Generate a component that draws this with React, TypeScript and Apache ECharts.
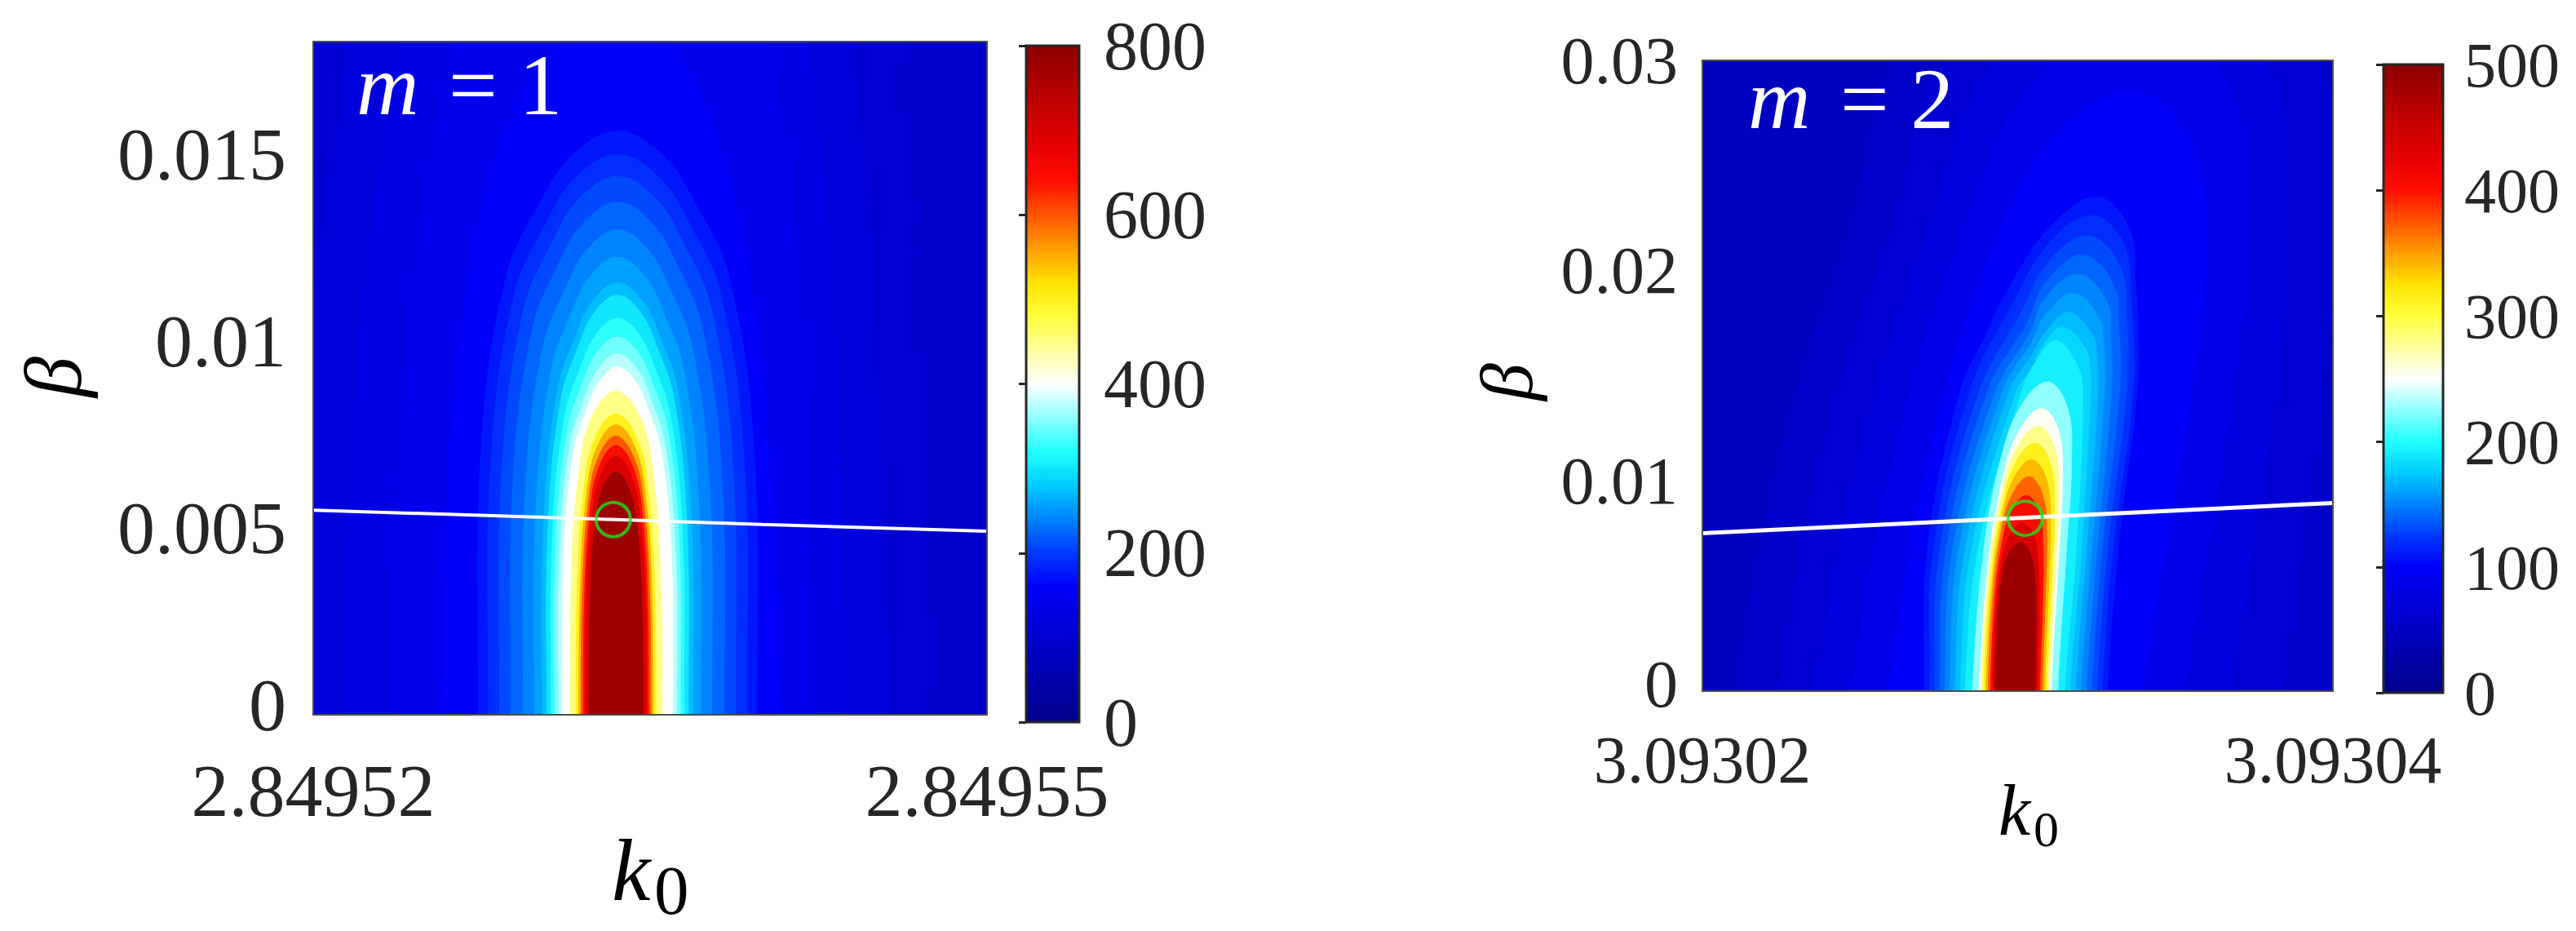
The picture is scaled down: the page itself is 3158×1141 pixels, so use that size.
import * as echarts from "echarts";
import { useEffect, useRef } from "react";

// k0 is stored as an offset from the left axis end in units of 1e-6,
// beta in units of 1e-3; the tick labels show the real values.
const xTicksL = ["2.84952", "2.84955"];
const yTicksL = ["0", "0.005", "0.01", "0.015"];
const xTicksR = ["3.09302", "3.09304"];
const yTicksR = ["0", "0.01", "0.02", "0.03"];

// jet-like colormap with a white middle (as in the colour bars)
const CMAP = [
  "#00008a", "#0000a6", "#0000c2", "#0000de", "#0000f9", "#003aff", "#0083ff",
  "#00ccff", "#21ffff", "#90ffff", "#ffffff", "#ffff9d", "#ffff3b", "#ffe300",
  "#ff9c00", "#ff5500", "#ff0e00", "#e70000", "#c90000", "#ab0000", "#8c0000",
];

// m = 1: contour levels and the outline of each level (dk0, beta)
const levelsL = [92, 100, 115, 130, 145, 160, 176, 192, 208, 224, 240, 256, 272, 300, 325, 350, 375, 400, 450, 500, 550, 600, 650, 700, 780];
const contoursL: number[][][] = [
  [[-5, -1], [-5, 30], [35, 30], [35, -1]],
  [[-3, 0], [-2.7, 7], [-1.8, 13], [-1, 16.5], [0, 20], [13, 24], [26, 20], [26.5, 16.5], [27, 13], [27.4, 7], [27.7, 0]],
  [[-0.8, 0], [-0.5, 7], [0.4, 13], [1.3, 16.5], [2.5, 20], [13, 23], [23, 20], [24.2, 16.5], [24.8, 13], [25.3, 7], [25.6, 0]],
  [[1.4, 0], [1.7, 7], [2.6, 13], [3.5, 16.5], [5, 20], [13, 22], [21, 20], [22.3, 16.5], [22.9, 13], [23.4, 7], [23.7, 0]],
  [[3.6, 0], [3.9, 7], [4.8, 13], [5.8, 16.5], [7.5, 19.5], [13.2, 21], [19, 19.5], [20.6, 16.5], [21.4, 13], [21.9, 7], [22.2, 0]],
  [[5.8, 0], [6.0, 6], [6.8, 11], [8.2, 15], [10.5, 17.6], [13.2, 18.6], [16, 17.8], [18.2, 15], [19.6, 11], [20.4, 6], [20.8, 0]],
  [[7.35, 0], [7.47, 7.02], [8.59, 11.7], [10.14, 13.73], [11.57, 14.98], [13.55, 15.6], [15.53, 14.98], [16.96, 13.73], [18.51, 11.7], [19.63, 7.02], [19.75, 0]],
  [[7.8, 0], [7.91, 6.74], [8.95, 11.23], [10.39, 13.17], [11.71, 14.37], [13.55, 14.97], [15.39, 14.37], [16.71, 13.17], [18.15, 11.23], [19.19, 6.74], [19.3, 0]],
  [[8.3, 0], [8.4, 6.48], [9.35, 10.79], [10.66, 12.66], [11.87, 13.81], [13.55, 14.39], [15.23, 13.81], [16.44, 12.66], [17.75, 10.79], [18.7, 6.48], [18.8, 0]],
  [[8.8, 0], [8.89, 6.17], [9.75, 10.28], [10.94, 12.06], [12.03, 13.15], [13.55, 13.7], [15.07, 13.15], [16.16, 12.06], [17.35, 10.28], [18.21, 6.17], [18.3, 0]],
  [[9.35, 0], [9.43, 5.84], [10.19, 9.73], [11.24, 11.41], [12.21, 12.45], [13.55, 12.97], [14.89, 12.45], [15.86, 11.41], [16.91, 9.73], [17.67, 5.84], [17.75, 0]],
  [[9.85, 0], [9.92, 5.51], [10.59, 9.18], [11.51, 10.77], [12.37, 11.75], [13.55, 12.24], [14.73, 11.75], [15.59, 10.77], [16.51, 9.18], [17.18, 5.51], [17.25, 0]],
  [[10.2, 0], [10.27, 5.2], [10.87, 8.66], [11.71, 10.16], [12.48, 11.09], [13.55, 11.55], [14.62, 11.09], [15.39, 10.16], [16.23, 8.66], [16.83, 5.2], [16.9, 0]],
  [[10.4, 0], [10.46, 5.05], [11.03, 8.42], [11.82, 9.87], [12.54, 10.77], [13.55, 11.22], [14.56, 10.77], [15.28, 9.87], [16.07, 8.42], [16.64, 5.05], [16.7, 0]],
  [[10.6, 0], [10.66, 4.77], [11.19, 7.95], [11.93, 9.33], [12.61, 10.18], [13.55, 10.6], [14.49, 10.18], [15.17, 9.33], [15.91, 7.95], [16.44, 4.77], [16.5, 0]],
  [[10.75, 0], [10.81, 4.55], [11.31, 7.58], [12.01, 8.89], [12.65, 9.7], [13.55, 10.1], [14.45, 9.7], [15.09, 8.89], [15.79, 7.58], [16.29, 4.55], [16.35, 0]],
  [[10.93, 0], [10.98, 4.34], [11.45, 7.24], [12.11, 8.49], [12.71, 9.26], [13.55, 9.65], [14.39, 9.26], [14.99, 8.49], [15.65, 7.24], [16.12, 4.34], [16.17, 0]],
  [[11.1, 0], [11.15, 4.19], [11.59, 6.98], [12.2, 8.18], [12.77, 8.93], [13.55, 9.3], [14.33, 8.93], [14.9, 8.18], [15.51, 6.98], [15.95, 4.19], [16.0, 0]],
  [[11.43, 0], [11.51, 3.89], [11.84, 6.49], [12.41, 7.96], [13.48, 8.65], [14.55, 7.96], [15.12, 6.49], [15.45, 3.89], [15.53, 0]],
  [[11.7, 0], [11.77, 3.62], [12.06, 6.04], [12.55, 7.41], [13.48, 8.05], [14.41, 7.41], [14.9, 6.04], [15.19, 3.62], [15.26, 0]],
  [[11.83, 0], [11.9, 3.49], [12.16, 5.81], [12.62, 7.13], [13.48, 7.75], [14.34, 7.13], [14.8, 5.81], [15.06, 3.49], [15.13, 0]],
  [[11.93, 0], [11.99, 3.35], [12.24, 5.59], [12.67, 6.85], [13.48, 7.45], [14.29, 6.85], [14.72, 5.59], [14.97, 3.35], [15.03, 0]],
  [[12.03, 0], [12.09, 3.24], [12.32, 5.4], [12.73, 6.62], [13.48, 7.2], [14.23, 6.62], [14.64, 5.4], [14.87, 3.24], [14.93, 0]],
  [[12.13, 0], [12.18, 3.11], [12.4, 5.18], [12.78, 6.35], [13.48, 6.9], [14.18, 6.35], [14.56, 5.18], [14.78, 3.11], [14.83, 0]],
  [[12.28, 0], [12.33, 2.93], [12.52, 4.88], [12.86, 5.98], [13.48, 6.5], [14.1, 5.98], [14.44, 4.88], [14.63, 2.93], [14.68, 0]],
];
const lineLx = [0, 6, 13.4, 20, 30];
const lineLy = [5.47, 5.36, 5.22, 5.09, 4.91];
const pointL = [13.36, 5.22];

// m = 2
const levelsR = [47, 55, 65, 75, 85, 100, 110, 120, 130, 140, 150, 160, 170, 180, 192, 225, 252, 280, 313, 340, 370, 405, 440, 488];
const contoursR: number[][][] = [
  [[-5, -1], [-5, 40], [25, 40], [25, -1]],
  [[1.0, 0], [2.5, 12], [4.6, 22], [6.5, 31], [13, 38], [21, 31], [21.5, 22], [21, 12], [20, 0]],
  [[2.4, 0], [3.9, 12], [6.0, 22], [8.0, 31], [13, 36], [19.2, 31], [20, 22], [19.5, 12], [18.4, 0]],
  [[3.6, 0], [5.1, 12], [7.2, 22], [9.3, 30], [13.5, 34], [17.8, 30], [18.6, 22], [18.0, 12], [16.8, 0]],
  [[4.7, 0], [6.2, 12], [8.3, 22], [10.5, 29], [13.8, 32], [16.6, 29], [17.3, 22], [16.6, 12], [15.3, 0]],
  [[5.9, 0], [7.3, 12], [9.2, 21], [11.2, 26.5], [13.6, 28.5], [15.4, 26.5], [16.0, 21], [15.3, 12], [14.0, 0]],
  [[7.05, 0], [7.14, 6.76], [8.18, 14.26], [8.96, 16.85], [9.82, 19.44], [11.02, 22.04], [12.5, 23.5], [13.53, 22.04], [13.74, 19.44], [13.83, 16.85], [13.79, 14.26], [13.19, 6.76], [12.85, 0]],
  [[7.21, 0], [7.34, 6.76], [8.49, 14.26], [9.85, 18.44], [11.0, 21.3], [12.35, 22.62], [13.35, 21.3], [13.6, 18.44], [13.66, 14.26], [13.02, 6.76], [12.68, 0]],
  [[7.37, 0], [7.54, 6.76], [8.79, 14.26], [10.1, 17.96], [10.95, 20.35], [12.2, 21.65], [13.2, 20.35], [13.45, 17.96], [13.45, 14.26], [12.85, 6.76], [12.51, 0]],
  [[7.53, 0], [7.74, 6.76], [9.05, 14.26], [10.3, 17.5], [10.9, 19.44], [12.05, 20.74], [13.0, 19.44], [13.2, 17.5], [13.23, 14.26], [12.68, 6.76], [12.34, 0]],
  [[7.69, 0], [7.94, 6.76], [9.31, 14.26], [10.4, 17.05], [10.85, 18.63], [11.9, 19.83], [12.8, 18.63], [12.95, 17.05], [12.97, 14.26], [12.52, 6.76], [12.17, 0]],
  [[7.85, 0], [8.14, 6.76], [9.52, 14.26], [10.45, 16.6], [10.85, 17.83], [11.75, 18.93], [12.55, 17.83], [12.72, 16.6], [12.75, 14.26], [12.35, 6.76], [12.0, 0]],
  [[8.01, 0], [8.34, 6.76], [9.74, 14.26], [10.5, 16.1], [10.85, 17.0], [11.6, 18.02], [12.35, 17.0], [12.5, 16.1], [12.54, 14.26], [12.18, 6.76], [11.83, 0]],
  [[8.17, 0], [8.54, 6.76], [9.96, 14.26], [10.45, 15.3], [10.75, 16.3], [11.42, 17.3], [12.15, 16.3], [12.3, 15.3], [12.32, 14.26], [12.02, 6.76], [11.66, 0]],
  [[8.33, 0], [8.75, 6.76], [10.13, 14.26], [10.55, 15.6], [11.2, 16.66], [11.85, 15.6], [12.06, 14.26], [11.85, 6.76], [11.49, 0]],
  [[8.57, 0], [8.92, 6.62], [9.47, 11.03], [10.09, 13.52], [10.95, 14.7], [11.57, 13.52], [11.71, 11.03], [11.54, 6.62], [11.27, 0]],
  [[8.78, 0], [9.07, 6.05], [9.52, 10.08], [10.04, 12.36], [10.77, 13.44], [11.3, 12.36], [11.42, 10.08], [11.29, 6.05], [11.06, 0]],
  [[8.84, 0], [9.09, 5.67], [9.5, 9.45], [9.98, 11.59], [10.66, 12.6], [11.16, 11.59], [11.3, 9.45], [11.19, 5.67], [11.0, 0]],
  [[8.92, 0], [9.14, 5.31], [9.51, 8.85], [9.93, 10.86], [10.56, 11.8], [11.03, 10.86], [11.17, 8.85], [11.08, 5.31], [10.92, 0]],
  [[8.99, 0], [9.18, 4.95], [9.5, 8.25], [9.88, 10.12], [10.45, 11.0], [10.9, 10.12], [11.04, 8.25], [10.98, 4.95], [10.85, 0]],
  [[9.06, 0], [9.22, 4.59], [9.49, 7.65], [9.84, 9.38], [10.36, 10.2], [10.78, 9.38], [10.92, 7.65], [10.88, 4.59], [10.78, 0]],
  [[9.14, 0], [9.27, 4.19], [9.5, 6.98], [9.81, 8.56], [10.28, 9.3], [10.67, 8.56], [10.8, 6.98], [10.79, 4.19], [10.7, 0]],
  [[9.22, 0], [9.31, 3.6], [9.49, 6.0], [9.74, 7.36], [10.15, 8.0], [10.51, 7.36], [10.65, 6.0], [10.67, 3.6], [10.62, 0]],
  [[9.29, 0], [9.36, 3.18], [9.5, 5.3], [9.71, 6.5], [10.08, 7.06], [10.41, 6.5], [10.55, 5.3], [10.58, 3.18], [10.55, 0]],
];
const lineRx = [0, 5, 10.24, 15, 20];
const lineRy = [7.51, 7.87, 8.25, 8.59, 8.95];
const pointR = [10.24, 8.22];

const FONT = "'Liberation Serif', 'Times New Roman', serif";
const INK = "#262626";
const RING = "#19e619";

function contourSeries(contours: number[][][], levels: number[], axis: number) {
  return {
    type: "custom",
    xAxisIndex: axis,
    yAxisIndex: axis,
    clip: true,
    silent: true,
    data: levels.map((v, i) => [i, 0, v]),
    encode: { x: 0, y: 1 },
    renderItem: (params: any, api: any) => {
      const pts = contours[params.dataIndex];
      const first = pts[0];
      const last = pts[pts.length - 1];
      // run the outline past the bottom edge so the clip closes it there
      const ring = [[first[0], -3], ...pts, [last[0], -3]].map((p) => api.coord(p));
      const color = api.visual("color");
      return {
        type: "polygon",
        shape: { points: ring, smooth: 0.4 },
        style: { fill: color, stroke: color, lineWidth: 1 },
      };
    },
  };
}

function label(size: number, margin: number, fmt: (v: number) => string, lift = 0) {
  return {
    fontSize: size,
    lineHeight: Math.round(size * 0.66),
    fontFamily: FONT,
    color: INK,
    margin,
    formatter: fmt,
    // the bottom "0" of the beta axis sits a touch higher, clear of the k0 labels
    rich: { z: { fontSize: size, fontFamily: FONT, color: INK, padding: [0, 0, lift * 2, 0] } },
  };
}

const hidden = { axisLine: { show: false }, axisTick: { show: false }, splitLine: { show: false } };

function cbarAxis(grid: number, max: number, step: number, size: number, margin: number) {
  return {
    gridIndex: grid,
    type: "value",
    position: "right",
    min: 0,
    max,
    interval: step,
    z: 12,
    axisLine: { show: false },
    splitLine: { show: false },
    axisTick: { show: true, inside: true, length: 9, lineStyle: { color: INK, width: 3 } },
    axisLabel: { fontSize: size, lineHeight: Math.round(size * 0.66), fontFamily: FONT, color: INK, margin },
  };
}

function text(x: number, y: number, str: string, size: number, opts: any = {}) {
  return {
    type: "text",
    x,
    y,
    z: 30,
    rotation: opts.rotation || 0,
    style: {
      text: str,
      fill: opts.fill || "#000",
      fontSize: size,
      fontFamily: FONT,
      fontStyle: opts.italic ? "italic" : "normal",
      align: opts.align || "left",
      verticalAlign: "middle",
      rich: opts.rich,
    },
  };
}

function mLabel(x: number, y: number, n: string) {
  return text(x, y, `{i|m}{s| = ${n}}`, 106, {
    fill: "#fff",
    rich: {
      i: { fontStyle: "italic", fontSize: 106, fontFamily: FONT, fill: "#fff" },
      s: { fontSize: 106, fontFamily: FONT, fill: "#fff", padding: [0, 0, 0, 10] },
    },
  });
}

export default function App() {
  const ref = useRef<HTMLDivElement | null>(null);

  useEffect(() => {
    const el = ref.current;
    if (!el) return;
    const chart = echarts.init(el, undefined, { renderer: "svg" });

    const yLabelL = (v: number) => (v === 0 ? "{z|0}" : v > 16 ? "" : yTicksL[Math.round(v / 5)] ?? "");
    const yLabelR = (v: number) => (v === 0 ? "{z|0}" : yTicksR[Math.round(v / 10)] ?? "");

    const option: any = {
      animation: false,
      backgroundColor: "#fff",
      grid: [
        { left: 384, top: 51, width: 826, height: 825, show: true, borderColor: "#4d4d4d", borderWidth: 2, backgroundColor: "transparent", z: 10 },
        { left: 1258, top: 56, width: 65, height: 829, show: true, borderColor: INK, borderWidth: 3, backgroundColor: "transparent", z: 10 },
        { left: 2087, top: 74, width: 773, height: 773, show: true, borderColor: "#4d4d4d", borderWidth: 2, backgroundColor: "transparent", z: 10 },
        { left: 2922, top: 79, width: 73, height: 770, show: true, borderColor: INK, borderWidth: 3, backgroundColor: "transparent", z: 10 },
      ],
      xAxis: [
        { gridIndex: 0, type: "value", min: 0, max: 30, interval: 30, ...hidden, axisLabel: label(92, 62, (v) => xTicksL[Math.round(v / 30)] ?? "") },
        { gridIndex: 1, type: "value", show: false, min: 0, max: 1 },
        { gridIndex: 2, type: "value", min: 0, max: 20, interval: 20, ...hidden, axisLabel: label(82, 57, (v) => xTicksR[Math.round(v / 20)] ?? "") },
        { gridIndex: 3, type: "value", show: false, min: 0, max: 1 },
      ],
      yAxis: [
        { gridIndex: 0, type: "value", min: 0, max: 18, interval: 5, ...hidden, axisLabel: { ...label(92, 33, yLabelL, 12), showMaxLabel: false } },
        cbarAxis(1, 800, 200, 84, 30),
        { gridIndex: 2, type: "value", min: 0, max: 30, interval: 10, ...hidden, axisLabel: label(82, 30, yLabelR, 9) },
        cbarAxis(3, 500, 100, 78, 26),
      ],
      visualMap: [
        { type: "continuous", seriesIndex: 0, dimension: 2, min: 0, max: 800, inRange: { color: CMAP }, calculable: false, hoverLink: false, orient: "vertical", left: 1258, top: 56, itemWidth: 65, itemHeight: 829, padding: 0 },
        { type: "continuous", seriesIndex: 3, dimension: 2, min: 0, max: 500, inRange: { color: CMAP }, calculable: false, hoverLink: false, orient: "vertical", left: 2922, top: 79, itemWidth: 73, itemHeight: 770, padding: 0 },
      ],
      series: [
        contourSeries(contoursL, levelsL, 0),
        {
          type: "line", xAxisIndex: 0, yAxisIndex: 0, showSymbol: false, silent: true, z: 5,
          data: lineLx.map((x, i) => [x, lineLy[i]]),
          lineStyle: { color: "#ffffff", width: 4 },
        },
        {
          type: "scatter", xAxisIndex: 0, yAxisIndex: 0, silent: true, z: 6, symbolSize: 42,
          data: [pointL],
          itemStyle: { color: "rgba(0,0,0,0)", borderColor: RING, borderWidth: 4 },
        },
        contourSeries(contoursR, levelsR, 2),
        {
          type: "line", xAxisIndex: 2, yAxisIndex: 2, showSymbol: false, silent: true, z: 5,
          data: lineRx.map((x, i) => [x, lineRy[i]]),
          lineStyle: { color: "#ffffff", width: 5 },
        },
        {
          type: "scatter", xAxisIndex: 2, yAxisIndex: 2, silent: true, z: 6, symbolSize: 42,
          data: [pointR],
          itemStyle: { color: "rgba(0,0,0,0)", borderColor: RING, borderWidth: 4 },
        },
      ],
      graphic: [
        mLabel(437, 104, "1"),
        mLabel(2143, 121, "2"),
        text(750, 1067, "k", 107, { italic: true }),
        text(802, 1091, "0", 85),
        text(2450, 993, "k", 88, { italic: true }),
        text(2493, 1016, "0", 62),
        text(65, 462, "β", 100, { italic: true, align: "center", rotation: Math.PI / 2 }),
        text(1847, 468, "β", 92, { italic: true, align: "center", rotation: Math.PI / 2 }),
      ],
    };

    chart.setOption(option);
    return () => {
      chart.dispose();
    };
  }, []);

  return (
    <div
      ref={ref}
      style={{ position: "absolute", left: 0, top: 0, width: 3158, height: 1141, background: "#fff" }}
    />
  );
}
